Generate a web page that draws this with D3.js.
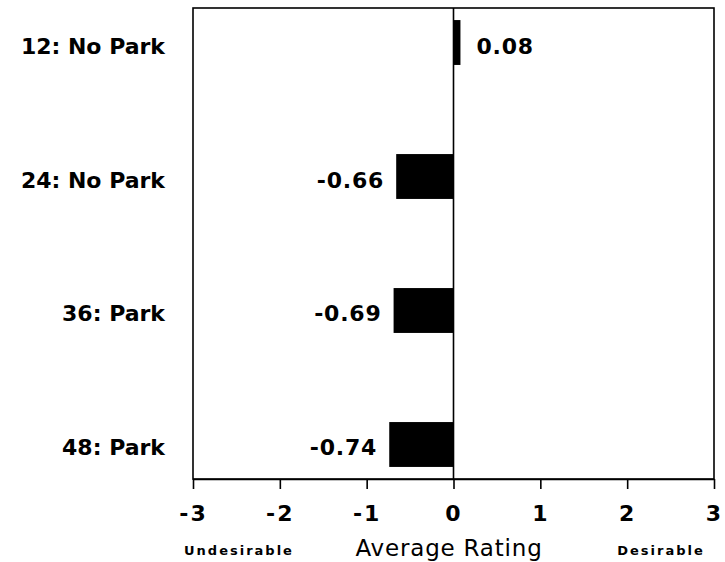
<!DOCTYPE html>
<html>
<head>
<meta charset="utf-8">
<script src="https://cdn.jsdelivr.net/npm/d3@7"></script>
<style>
  html, body { margin: 0; padding: 0; background: #fff; }
  svg { display: block; }
  text { font-family: "DejaVu Sans", sans-serif; fill: #000; }
</style>
</head>
<body>
<svg id="chart" width="725" height="562"></svg>
<script>
const categories = ["12: No Park", "24: No Park", "36: Park", "48: Park"];
const values = [0.08, -0.66, -0.69, -0.74];
const valueLabels = ["0.08", "-0.66", "-0.69", "-0.74"];
const tickValues = [-3, -2, -1, 0, 1, 2, 3];
const tickLabels = ["-3", "-2", "-1", "0", "1", "2", "3"];
const xTitle = "Average Rating";
const leftNote = "Undesirable";
const rightNote = "Desirable";

const svg = d3.select("#chart");
const plotLeft = 193, plotRight = 714, plotTop = 8, plotBottom = 479;

const x = d3.scaleLinear().domain([-3, 3]).range([plotLeft, plotRight]);
const y = d3.scaleBand().domain(categories).range([plotTop, plotBottom])
  .paddingInner(0.665).paddingOuter(0.09);

// frame
svg.append("rect")
  .attr("x", plotLeft).attr("y", plotTop)
  .attr("width", plotRight - plotLeft).attr("height", plotBottom - plotTop)
  .attr("fill", "none").attr("stroke", "#000").attr("stroke-width", 1.6);

// zero line
svg.append("line")
  .attr("x1", x(0)).attr("x2", x(0))
  .attr("y1", plotTop).attr("y2", plotBottom)
  .attr("stroke", "#000").attr("stroke-width", 1.6);

// bars
const data = categories.map((c, i) => ({ c, v: values[i], label: valueLabels[i] }));
svg.selectAll("rect.bar").data(data).enter().append("rect")
  .attr("class", "bar")
  .attr("x", d => Math.min(x(0), x(d.v)))
  .attr("width", d => Math.abs(x(d.v) - x(0)))
  .attr("y", d => y(d.c))
  .attr("height", y.bandwidth())
  .attr("fill", "#000");

// value labels
svg.selectAll("text.val").data(data).enter().append("text")
  .attr("class", "val")
  .attr("x", d => d.v >= 0 ? x(d.v) + 16 : x(d.v) - 12)
  .attr("y", d => y(d.c) + y.bandwidth() / 2 + 11)
  .attr("text-anchor", d => d.v >= 0 ? "start" : "end")
  .attr("font-size", 22)
  .attr("font-weight", "bold")
  .attr("letter-spacing", 0.8)
  .text(d => d.label);

// category labels
svg.selectAll("text.cat").data(data).enter().append("text")
  .attr("class", "cat")
  .attr("x", 165)
  .attr("y", d => y(d.c) + y.bandwidth() / 2 + 11)
  .attr("text-anchor", "end")
  .attr("font-size", 22)
  .attr("font-weight", "bold")
  .text(d => d.c);

// x axis
const axis = d3.axisBottom(x)
  .tickValues(tickValues)
  .tickFormat((d, i) => tickLabels[i])
  .tickSize(10)
  .tickSizeOuter(0);
const g = svg.append("g").attr("transform", `translate(0,${plotBottom})`).call(axis);
g.select(".domain").attr("stroke", "#000").attr("stroke-width", 1.6);
g.selectAll(".tick line").attr("stroke", "#000").attr("stroke-width", 1.6);
g.selectAll(".tick text")
  .attr("y", 42).attr("dy", null)
  .attr("font-family", "DejaVu Sans, sans-serif")
  .attr("font-size", 22)
  .attr("font-weight", "bold")
  .attr("letter-spacing", 2)
  .attr("fill", "#000");

// axis title and notes
svg.append("text")
  .attr("x", 449).attr("y", 556)
  .attr("text-anchor", "middle")
  .attr("font-size", 23)
  .attr("letter-spacing", 0.8)
  .text(xTitle);
svg.append("text")
  .attr("x", 239).attr("y", 555)
  .attr("text-anchor", "middle")
  .attr("font-size", 13)
  .attr("font-weight", "bold")
  .attr("letter-spacing", 2)
  .text(leftNote);
svg.append("text")
  .attr("x", 661).attr("y", 555)
  .attr("text-anchor", "middle")
  .attr("font-size", 13)
  .attr("font-weight", "bold")
  .attr("letter-spacing", 2)
  .text(rightNote);
</script>
</body>
</html>
